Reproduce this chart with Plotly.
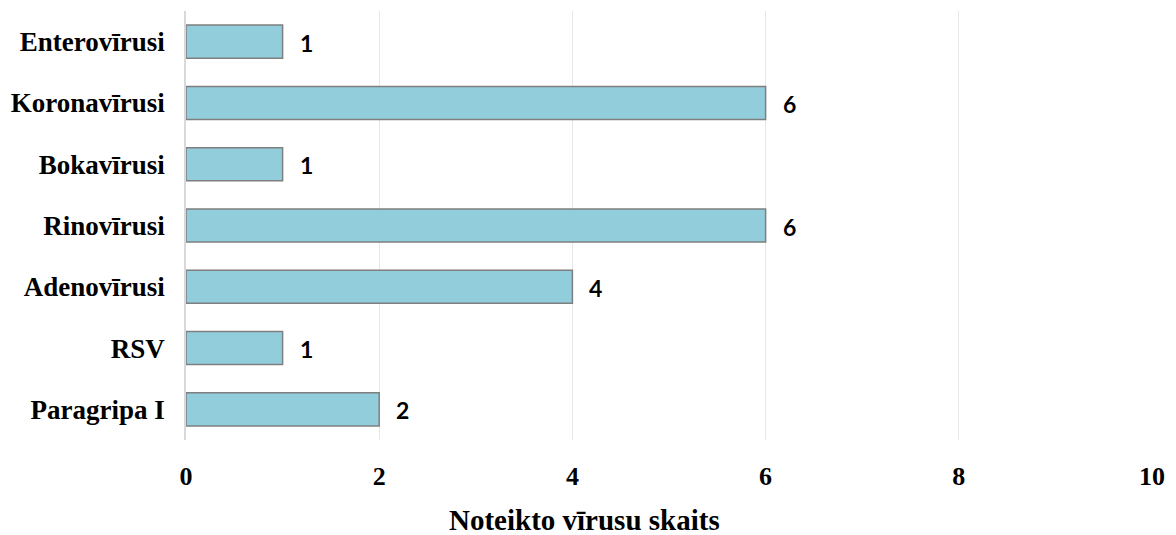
import plotly.graph_objects as go

categories = ["Paragripa I", "RSV", "Adenovīrusi", "Rinovīrusi", "Bokavīrusi", "Koronavīrusi", "Enterovīrusi"]
counts = [2, 1, 4, 6, 1, 6, 1]
x_ticks = [0, 2, 4, 6, 8, 10]
x_title = "Noteikto vīrusu skaits"

SERIF = "Liberation Serif, Times New Roman, serif"
W, H = 1176, 535
M_L, M_R, M_T, M_B = 185, 15, 11, 95

fig = go.Figure()
fig.add_trace(go.Bar(
    x=counts,
    y=categories,
    orientation="h",
    marker=dict(color="#92CDDC", line=dict(color="#7F7F7F", width=1.5)),
    hoverinfo="x+y",
))

# value labels just right of each bar end
for cat, val in zip(categories, counts):
    fig.add_annotation(
        x=val, y=cat, text=f"<b>{val}</b>", showarrow=False,
        xanchor="left", xshift=15, yshift=-1,
        font=dict(family="Lato, Open Sans, sans-serif", size=23, color="#000000"),
    )

# axis title centred on the whole figure width
fig.add_annotation(
    xref="paper", yref="paper",
    x=(W / 2 - M_L) / (W - M_L - M_R), y=0,
    xanchor="center", yanchor="middle", yshift=-80,
    height=28, valign="middle", borderpad=0,
    text=f"<b>{x_title}</b>", showarrow=False,
    font=dict(family=SERIF, size=29, color="#000000"),
)

fig.update_layout(
    width=W, height=H,
    margin=dict(l=M_L, r=M_R, t=M_T, b=M_B),
    paper_bgcolor="white", plot_bgcolor="white",
    bargap=0.46,
    showlegend=False,
)
fig.update_xaxes(
    range=[0, 10], tickvals=x_ticks, ticktext=[f"<b>{v}</b>" for v in x_ticks],
    showgrid=True, gridcolor="#E6E6E6", gridwidth=1,
    zeroline=False, showline=False, ticks="",
    ticklabelstandoff=18,
    tickfont=dict(family=SERIF, size=26, color="#000000"),
)
fig.update_yaxes(
    tickvals=categories, ticktext=[f"<b>{c}</b>" for c in categories],
    showgrid=False, showline=True, linecolor="#D9D9D9", linewidth=1.5,
    ticks="", ticklabelstandoff=14,
    tickfont=dict(family=SERIF, size=27, color="#000000"),
)

fig.write_html("out.html")
